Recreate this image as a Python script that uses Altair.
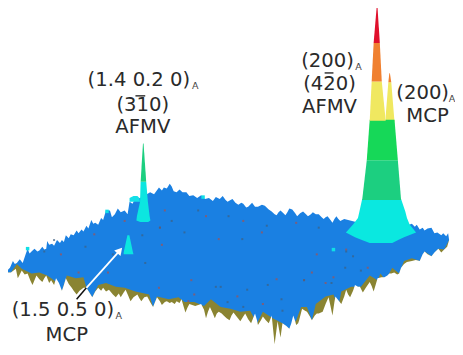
import altair as alt
import pandas as pd

# surface outlines (horizontal position, height on the page)
back_x = [0,3,5,8,10,12,15,18,21,23,25,27,30,33,35,38,40,42,43,45,48,50,53,56,58,60,62,65,67,70,73,75,78,80,83,85,88,90,92,95,98,100,103,107,109,112,115,118,122,125,127,130,132,140,148,152,
          157,160,162,165,168,170,172,175,178,181,185,188,192,196,200,204,208,212,215,219,222,225,227,230,232,235,238,241,243,246,248,250,252,255,258,262,265,269,272,275,277,279,281,284,286,288,290,293,296,298,301,304,307,309,312,314,317,320,323,325,327,329,332,334,336,338,340,342,346,350,
          358,385,412,415,418,420,423,426,428,431,435,438,441,445,447,450,452,453]
back_y = [276,274,272,265,268,267,263,267,258,252,257,255,252,255,254,250,253,252,244,248,247,249,243,246,243,245,238,241,237,238,233,236,232,234,228,231,222,226,225,227,220,222,212,212,219,216,210,214,212,216,203,205,201,198,193,195,
          188,191,188,189,184,187,192,193,190,193,193,197,196,199,196,200,199,202,198,200,197,201,203,201,200,204,206,204,205,209,208,206,204,208,208,206,207,211,213,216,217,214,212,215,217,214,210,211,215,218,215,213,216,218,216,214,216,216,219,221,219,218,222,225,221,218,221,223,221,222,
          224,230,227,226,229,227,232,230,233,231,230,236,235,238,236,239,236,243]

front_x = [0,6,12,17,27,35,43,50,58,63,72,80,83,89,95,103,113,122,133,147,151,155,167,177,183,193,203,210,220,230,240,250,257,263,273,283,290,297,302,
           308,313,317,327,335,340,343,353,363,372,380,383,388,395,402,407,415,423,428,435,442,448,453]
front_y = [277,277,268,273,278,277,280,285,296,280,283,282,293,303,290,288,292,293,297,300,313,302,305,303,308,308,312,305,313,315,318,317,330,318,325,330,336,327,313,
           313,327,310,302,300,313,297,292,292,280,285,278,285,272,278,265,262,265,255,260,252,253,243]

under_x = [0,6,11,13,15,17,20,23,26,28,30,32,35,38,40,42,45,47,50,52,55,58,60,62,65,68,70,73,76,80,83,86,89,92,95,98,100,103,106,110,113,116,118,121,123,126,128,131,135,137,139,142,145,148,151,153,155,158,160,163,165,168,170,173,175,178,180,182,184,186,188,194,200,203,205,207,209,212,214,216,218,221,223,226,229,231,233,237,240,243,245,248,251,253,255,257,258,261,263,266,269,271,272,275,278,281,283,287,290,292,294,296,297,299,300,
           303,306,308,311,313,316,318,320,324,327,330,332,334,336,337,340,343,346,348,350,352,355,357,360,362,365,368,372,374,376,378,380,384,387,390,392,394,397,400,402,404,407,410,415,419,423,426,428,431,435,438,442,445,448,451,453,456,463]
under_y = [277,277,273,283,279,275,279,278,286,290,285,280,284,287,283,280,288,285,290,283,288,296,290,283,289,293,296,300,296,293,293,298,303,297,293,296,293,297,295,300,303,299,303,298,295,302,307,303,300,304,307,303,302,308,313,308,303,307,311,308,307,309,308,310,307,309,305,312,319,314,310,312,310,316,325,318,313,320,325,320,318,320,322,325,327,322,319,324,328,323,320,326,330,325,320,327,332,327,323,327,330,325,322,352,328,345,330,333,336,330,322,328,332,330,327,
           315,317,318,323,327,322,320,320,318,310,303,312,322,308,302,306,310,302,295,300,303,296,290,292,292,298,293,287,291,297,290,283,282,282,280,278,278,277,279,278,272,268,266,265,264,265,258,255,258,260,256,252,256,253,250,243,243,243]

# main peak: height levels with left and right flank
red_h, red_l, red_r = [0, 36.7], [379, 376], [380, 382.3]
orange_h, orange_l, orange_r = [36.7, 77], [376, 374], [382.3, 384.3]
yellow_h, yellow_l, yellow_r = [77, 118], [374, 372], [384.3, 388.3]
green_h, green_l, green_r = [117, 159.5], [372, 369], [397.3, 400.7]
teal_h, teal_l, teal_r = [159.5, 201], [369, 364.3], [400.7, 404]
cyan_h = [200, 213, 220, 226.7, 235, 240, 243, 246]
cyan_l = [364.3, 361.5, 360, 355, 347.7, 357, 364, 372]
cyan_r = [404, 408.3, 410, 412.7, 419.3, 407, 401, 395]

# second peak beside it
side_o_h, side_o_l, side_o_r = [68.3, 77.7], [392, 391], [392.6, 394]
side_y_h, side_y_l, side_y_r = [77.7, 113, 119], [391, 388.3, 388.3], [394, 396.8, 397.3]

# middle peak
mid_g_h, mid_g_l, mid_g_r = [142, 182], [140.7, 138.3], [141.3, 144]
mid_c_h, mid_c_l, mid_c_r = [182, 203, 218, 222.5, 224], [138.3, 137.7, 134.5, 134, 138], [144, 145.7, 147.5, 148.3, 146]
wing_h, wing_l, wing_r = [197, 199, 203], [131, 127, 127], [135, 137, 137.7]

# small peak
small_h, small_l, small_r = [238, 256, 258], [124.8, 121, 121], [126.8, 130.5, 131]

# speckles on the surface
red_x = [91,57,122,158,105,75,190,277,305,237,193,263,187,157,163,205,243,297,262,218,160,318,335,327,313,348,370]
red_y = [237,258,223,230,277,277,285,284,285,302,300,310,307,293,212,218,223,225,235,242,248,258,282,288,277,253,272]
dark_x = [82,50,140,110,143,40,215,268,282,220,247,283,243,227,170,158,228,267,320,242,183,197,348,305,363,333,347,355]
dark_y = [250,243,238,258,267,255,292,290,305,292,295,317,313,308,223,230,218,228,230,242,235,212,255,285,275,288,272,260]
tip_x = [23,104,202,335,132]
tip_y = [252,213,198,253,200]

# annotation arrow
arrow_white_x, arrow_white_y, arrow_white_x2, arrow_white_y2 = [83], [293], [117], [254]
arrow_black_x, arrow_black_y, arrow_black_x2, arrow_black_y2 = [73], [305], [83], [293]
head_x, head_y = [117], [254]
bar_x, bar_y, bar_x2, bar_y2 = [133, 326], [92, 68], [143, 335], [92, 68]

# labels
label_text = ["(1.4 0.2 0)", "(310)", "AFMV", "(200)", "(420)", "AFMV", "(200)", "MCP", "(1.5 0.5 0)", "MCP"]
label_x = [136.5, 140.5, 140.5, 329, 331, 331, 426, 431, 59, 63]
label_y = [82, 108, 131, 62, 86, 110, 95, 119, 323, 349]
sub_text = ["A", "A", "A", "A"]
sub_x = [194, 360.5, 456, 116]
sub_y = [85, 65, 98, 326]

BLUE, OLIVE = "#1a80e2", "#8a8432"
xs = alt.Scale(domain=[3, 459], range=[0, 447], nice=False, zero=False)
ys = alt.Scale(domain=[0, 355], range=[0, 339], nice=False, zero=False)
X = alt.X("x:Q", scale=xs, axis=None)
Y = alt.Y("y:Q", scale=ys, axis=None)


def edge(xv, yv, color):
    df = pd.DataFrame({"x": xv, "y": yv, "floor": 355})
    return alt.Chart(df).mark_area(color=color, interpolate="linear").encode(x=X, y=Y, y2="floor:Q")


def band(h, l, r, color):
    df = pd.DataFrame({"y": h, "x": l, "x2": r})
    return alt.Chart(df).mark_area(color=color, orient="horizontal", interpolate="linear").encode(y=Y, x=X, x2="x2:Q")


def dots(xv, yv, color, size=4, opacity=0.7):
    df = pd.DataFrame({"x": xv, "y": yv})
    return alt.Chart(df).mark_square(color=color, size=size, opacity=opacity, stroke=None).encode(x=X, y=Y)


def seg(x1, y1, x2, y2, color, w):
    df = pd.DataFrame({"x": x1, "y": y1, "x2": x2, "y2": y2})
    return alt.Chart(df).mark_rule(color=color, strokeWidth=w).encode(x=X, y=Y, x2="x2:Q", y2="y2:Q")


labels = alt.Chart(pd.DataFrame({"x": label_x, "y": label_y, "t": label_text})).mark_text(
    font="DejaVu Sans", fontSize=19.6, color="#2a2a2a", align="center", baseline="alphabetic"
).encode(x=X, y=Y, text="t:N")
subs = alt.Chart(pd.DataFrame({"x": sub_x, "y": sub_y, "t": sub_text})).mark_text(
    font="DejaVu Sans", fontSize=9.5, color="#444444", align="center", baseline="alphabetic"
).encode(x=X, y=Y, text="t:N")
head = alt.Chart(pd.DataFrame({"x": head_x, "y": head_y})).mark_point(
    shape="triangle-up", filled=True, color="white", size=70, angle=41, opacity=1
).encode(x=X, y=Y)

chart = alt.layer(
    edge(back_x, back_y, BLUE),
    edge(front_x, front_y, OLIVE),
    edge(under_x, under_y, "#ffffff"),
    dots(red_x, red_y, "#a8504e"),
    dots(dark_x, dark_y, "#3f5f80"),
    dots(tip_x, tip_y, "#10dfe6", size=12, opacity=1),
    band(wing_h, wing_l, wing_r, "#14dfe8"),
    band(mid_c_h, mid_c_l, mid_c_r, "#0ce6e0"),
    band(mid_g_h, mid_g_l, mid_g_r, "#1ccf80"),
    band(small_h, small_l, small_r, "#0ce6e0"),
    band(side_y_h, side_y_l, side_y_r, "#f0e860"),
    band(side_o_h, side_o_l, side_o_r, "#f08030"),
    band(cyan_h, cyan_l, cyan_r, "#0ae8e0"),
    band(teal_h, teal_l, teal_r, "#1ccf80"),
    band(green_h, green_l, green_r, "#16d858"),
    band(yellow_h, yellow_l, yellow_r, "#f0e860"),
    band(orange_h, orange_l, orange_r, "#f08030"),
    band(red_h, red_l, red_r, "#e0102c"),
    seg(arrow_black_x, arrow_black_y, arrow_black_x2, arrow_black_y2, "#111111", 1.5),
    seg(arrow_white_x, arrow_white_y, arrow_white_x2, arrow_white_y2, "#ffffff", 1.8),
    seg(bar_x, bar_y, bar_x2, bar_y2, "#2a2a2a", 1.4),
    head,
    labels,
    subs,
).properties(width=447, height=339, padding=0, autosize=alt.AutoSizeParams(type="none")).configure_view(stroke=None)

chart.save("out.html", embed_options={"renderer": "svg", "actions": False})
